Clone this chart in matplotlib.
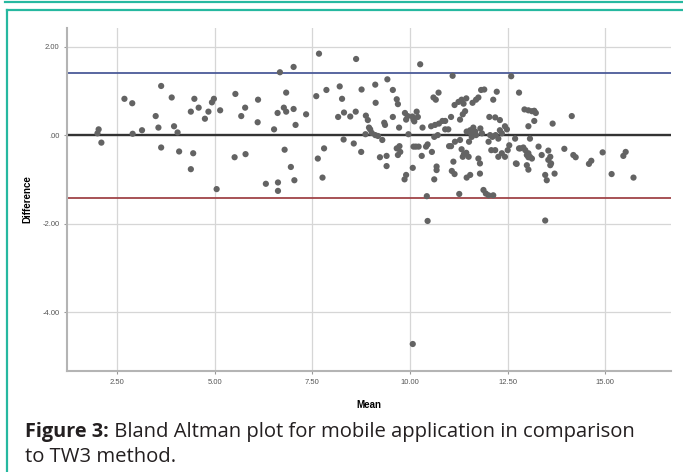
import matplotlib
matplotlib.use('Agg')
import matplotlib.pyplot as plt
from matplotlib.lines import Line2D

# Bland Altman data: mean of both methods vs difference
mean_vals = [2.03, 2.00, 2.10, 2.69, 2.89, 2.90, 3.14, 3.63, 3.49, 3.56, 3.63, 3.90, 3.96, 4.05, 4.09,
             4.39, 4.48, 4.59, 4.45, 4.39, 4.75, 4.84, 4.93, 4.98, 5.14, 5.05, 5.53, 5.78, 5.68, 6.11,
             6.10, 5.51, 5.79, 6.52, 6.61, 6.67, 7.02, 6.83, 6.77, 6.83, 7.02, 7.07, 7.34, 6.79, 6.95,
             7.04, 6.31, 6.62, 6.62, 7.67, 7.60, 7.86, 7.80, 7.64, 7.76, 8.20, 8.26, 8.16, 8.31, 8.47,
             8.61, 8.62, 8.76, 8.30, 8.56, 8.75, 8.87, 8.92, 8.95, 8.86, 8.98, 9.02, 9.11, 9.12, 9.42,
             9.56, 9.66, 9.69, 9.34, 9.36, 9.56, 9.72, 9.29, 9.11, 9.18, 9.23, 9.40, 9.40, 9.66, 9.73,
             9.69, 9.75, 9.87, 9.94, 9.90, 10.06, 10.11, 10.17, 10.20, 10.09, 9.96, 10.09, 10.15, 10.22, 10.32,
             10.26, 10.07, 9.90, 9.86, 10.30, 10.41, 10.45, 10.43, 10.45, 10.56, 10.60, 10.66, 10.73, 10.54, 10.64,
             10.74, 10.83, 10.90, 10.62, 10.71, 10.68, 10.68, 10.62, 10.90, 10.98, 11.05, 11.09, 11.14, 11.24, 11.32,
             11.37, 11.41, 11.35, 11.28, 11.44, 11.60, 11.69, 11.75, 11.82, 11.90, 11.05, 11.00, 11.15, 11.28, 11.11,
             11.07, 11.14, 11.32, 11.38, 11.35, 11.44, 11.50, 11.45, 11.54, 11.56, 11.62, 11.67, 11.58, 11.69, 11.51,
             11.45, 11.54, 11.26, 11.80, 11.84, 11.75, 11.79, 11.79, 11.88, 11.94, 12.01, 12.13, 12.03, 12.13, 12.22,
             12.18, 12.05, 12.11, 12.19, 12.01, 12.08, 12.18, 12.26, 12.30, 12.35, 12.30, 12.43, 12.48, 12.26, 12.35,
             12.43, 12.50, 12.54, 12.59, 12.79, 12.71, 12.79, 12.93, 13.03, 13.12, 13.18, 13.22, 13.18, 13.03, 13.65,
             14.14, 12.69, 13.07, 12.82, 12.90, 12.95, 13.03, 12.99, 13.07, 13.12, 13.03, 13.29, 13.37, 13.54, 13.59,
             13.54, 13.59, 13.61, 12.73, 12.99, 13.03, 13.46, 13.50, 13.70, 13.95, 14.18, 14.24, 14.58, 14.64, 14.93,
             15.16, 15.46, 15.52, 15.72, 13.46, 10.07]
diff_vals = [0.13, 0.04, -0.17, 0.82, 0.72, 0.03, 0.11, 1.11, 0.43, 0.17, -0.28, 0.85, 0.20, 0.06, -0.37,
             0.53, 0.82, 0.62, -0.41, -0.77, 0.37, 0.53, 0.74, 0.82, 0.56, -1.22, 0.93, 0.62, 0.43, 0.80,
             0.29, -0.50, -0.43, 0.13, 0.50, 1.42, 1.54, 0.96, 0.62, 0.53, 0.59, 0.23, 0.47, -0.33, -0.72,
             -1.02, -1.10, -1.07, -1.26, 1.84, 0.88, 1.02, -0.30, -0.53, -0.96, 1.10, 0.82, 0.41, 0.51, 0.42,
             0.53, 1.72, 1.03, -0.10, -0.19, -0.38, 0.44, 0.34, 0.17, 0.02, 0.13, 0.05, 1.14, 0.73, 1.26,
             1.02, 0.81, 0.70, 0.28, 0.23, 0.41, 0.17, -0.11, 0.00, -0.02, -0.50, -0.47, -0.70, -0.30, -0.25,
             -0.45, -0.38, 0.50, 0.43, 0.35, 0.42, 0.31, 0.53, 0.41, 0.35, 0.02, -0.26, -0.26, -0.26, 0.17,
             1.60, -0.74, -0.90, -1.00, -0.47, -0.26, -0.21, -1.38, -1.94, -0.38, 0.85, 0.80, 0.96, 0.20, 0.23,
             0.26, 0.32, 0.32, -0.04, 0.00, -0.71, -0.79, -1.00, 0.13, 0.13, 0.41, 1.34, 0.68, 0.75, 0.80,
             0.71, 0.54, 0.47, 0.35, 0.83, 0.73, 0.80, 0.85, 1.02, 1.03, -0.25, -0.25, -0.15, -0.11, -0.60,
             -0.81, -0.88, -0.32, -0.43, -0.49, -0.40, -0.49, 0.08, 0.11, 0.04, 0.17, 0.08, -0.04, 0.00, -0.15,
             -0.96, -0.90, -1.33, 0.15, 0.04, -0.53, -0.64, -0.87, -1.24, -1.32, -1.36, -1.36, 0.41, 0.80, 0.98,
             0.40, 0.00, -0.04, 0.00, -0.15, -0.34, -0.34, -0.08, 0.11, 0.04, 0.34, 0.20, 0.13, -0.49, -0.41,
             -0.49, -0.34, -0.23, 1.33, 0.96, -0.64, -0.30, 0.58, 0.56, 0.54, 0.55, 0.50, 0.32, 0.20, 0.26,
             0.43, -0.08, -0.08, -0.30, -0.28, -0.34, -0.41, -0.45, -0.49, -0.53, -0.50, -0.26, -0.45, -0.35, -0.49,
             -0.56, -0.68, -0.64, -0.65, -0.68, -0.78, -0.90, -1.02, -0.87, -0.31, -0.45, -0.50, -0.65, -0.58, -0.39,
             -0.88, -0.47, -0.38, -0.96, -1.93, -4.72]

mean_diff = 0.0
upper_loa = 1.41
lower_loa = -1.41

x_ticks = [2.5, 5.0, 7.5, 10.0, 12.5, 15.0]
x_labels = ['2.50', '5.00', '7.50', '10.00', '12.50', '15.00']
y_ticks = [2.0, 0.0, -2.0, -4.0]
y_labels = ['2.00', '.00', '-2.00', '-4.00']

caption_bold = 'Figure 3:'
caption_rest = ' Bland Altman plot for mobile application in comparison'
caption_line2 = 'to TW3 method.'

W, H = 683, 472
fig = plt.figure(figsize=(W / 100, H / 100), dpi=100)
ax = fig.add_axes([67 / W, 1 - 371 / H, (671 - 67) / W, (371 - 28) / H])

ax.grid(True, color='#d6d6d6', linewidth=0.9, zorder=0)
ax.axhline(upper_loa, color='#4b5b98', linewidth=1.3, zorder=2)
ax.axhline(mean_diff, color='#333333', linewidth=1.7, zorder=2)
ax.axhline(lower_loa, color='#a04448', linewidth=1.3, zorder=2)
ax.scatter(mean_vals, diff_vals, s=20, color='#636363', edgecolors='none', zorder=3)

ax.set_xlim(1.22, 16.68)
ax.set_ylim(-5.33, 2.42)
ax.set_xticks(x_ticks)
ax.set_xticklabels(x_labels)
ax.set_yticks(y_ticks)
ax.set_yticklabels(y_labels)
ax.tick_params(labelsize=5.5, labelcolor='#555555', length=2, color='#999999', width=0.8)
for side in ['top', 'right']:
    ax.spines[side].set_visible(False)
for side in ['left', 'bottom']:
    ax.spines[side].set_color('#b4b4b4')
    ax.spines[side].set_linewidth(1.5)
for lab in ax.get_xticklabels() + ax.get_yticklabels():
    lab.set_family('Liberation Sans')

ax.set_xlabel('Mean', fontsize=7, fontweight='bold', family='Liberation Sans', labelpad=10)
ax.set_ylabel('Difference', fontsize=7, fontweight='bold', family='Liberation Sans', labelpad=7)

# teal frame around the figure
teal = '#26b8a0'
fig.add_artist(Line2D([5 / W, 1], [1 - 2 / H, 1 - 2 / H], color=teal, linewidth=1.6))
fig.add_artist(Line2D([7 / W, 1], [1 - 10 / H, 1 - 10 / H], color=teal, linewidth=1.6))
fig.add_artist(Line2D([7 / W, 7 / W], [0, 1 - 10 / H], color=teal, linewidth=1.6))

# caption with a bold lead
renderer = fig.canvas.get_renderer()
t1 = fig.text(25 / W, 1 - 432 / H, caption_bold, fontsize=14.3, fontweight='bold',
              family='Open Sans', color='#231f20', va='center')
bb = t1.get_window_extent(renderer=renderer)
fig.text(bb.x1 / W, 1 - 432 / H, caption_rest, fontsize=14.6, family='Open Sans',
         color='#231f20', va='center')
fig.text(25 / W, 1 - 457 / H, caption_line2, fontsize=14.6, family='Open Sans',
         color='#231f20', va='center')

fig.savefig('out.png', dpi=100)
